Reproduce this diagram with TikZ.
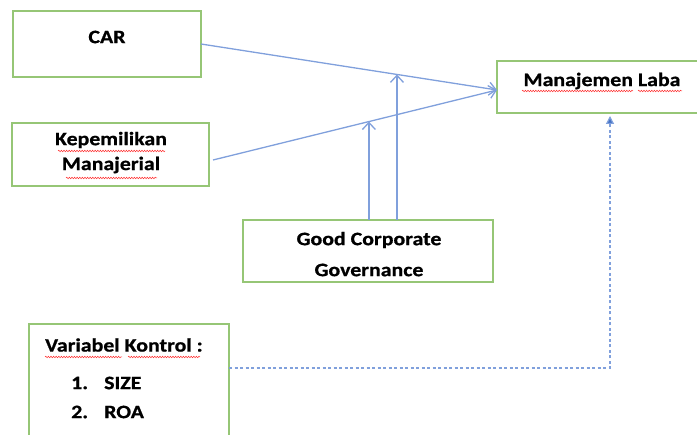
\documentclass[tikz,border=0pt]{standalone}
\usepackage{fontspec}
\setmainfont{Carlito}[FakeStretch=1.15, FakeBold=0.8]
\usetikzlibrary{arrows.meta,calc,decorations.pathmorphing}
\definecolor{boxgreen}{RGB}{150,198,118}
\definecolor{linkblue}{RGB}{128,160,220}
\definecolor{tipblue}{RGB}{68,114,196}
\newcommand{\lblfont}{\bfseries\fontsize{19}{22}\selectfont}

\tikzset{
  varbox/.style={draw=boxgreen, line width=1.3pt, outer sep=0pt, inner sep=0pt},
  lbl/.style={font=\lblfont, inner sep=0pt},
  link/.style={draw=linkblue, line width=1.3pt, -{Straight Barb[length=7pt,width=13pt]}},
  spell/.style={draw=red!80, line width=0.5pt, decorate,
    decoration={snake, amplitude=0.8pt, segment length=2.6pt}}
}

\begin{document}
\begin{tikzpicture}[x=1pt, y=-1pt]
  \useasboundingbox (0,0) rectangle (697,435);

  % boxes
  \node[varbox, minimum width=188pt, minimum height=66pt] (car) at (107,44) {};
  \node[varbox, minimum width=197pt, minimum height=63pt] (kep) at (110.5,154.5) {};
  \node[varbox, minimum width=206pt, minimum height=52pt] (laba) at (600,87) {};
  \node[varbox, minimum width=250pt, minimum height=62pt] (gcg) at (368,251) {};
  \node[varbox, minimum width=200pt, minimum height=120pt] (ctrl) at (129,384) {};

  % texts
  \node[lbl] at (107,37) {CAR};
  \node[lbl] at (111,140) {Kepemilikan};
  \node[lbl] at (111,165) {Manajerial};
  \node[lbl] at (602,81) {Manajemen Laba};
  \node[lbl] at (369,240) {Good Corporate};
  \node[lbl] at (369,270) {Governance};
  \node[lbl, anchor=west] at (45,345) {Variabel Kontrol :};
  \node[lbl, anchor=west] at (71,383) {1.};
  \node[lbl, anchor=west] at (104,383) {SIZE};
  \node[lbl, anchor=west] at (71,412) {2.};
  \node[lbl, anchor=west] at (104,412) {ROA};

  % spell-check marks
  \draw[spell] (58,151) -- (165,151);
  \draw[spell] (66,178) -- (157,178);
  \draw[spell] (522,91) -- (633,91);
  \draw[spell] (638,91) -- (682,91);
  \draw[spell] (45,357) -- (122,357);
  \draw[spell] (128,357) -- (200,357);

  % links to Manajemen Laba
  \coordinate (in) at (497,90);
  \coordinate (kepout) at (213,160);
  \draw[link] (car.east) -- coordinate[pos=0.662] (mcar) (in);
  \draw[link] (kepout) -- coordinate[pos=0.549] (mkep) (in);
  \draw[link] (gcg.north -| mcar) -- (mcar);
  \draw[link] (gcg.north -| mkep) -- (mkep);

  % control link
  \coordinate (ctrlout) at (229,368);
  \coordinate (bend) at (610,368);
  \coordinate (labain) at (610,116);
  \draw[draw=linkblue, line width=1.2pt, dash pattern=on 3pt off 2.5pt,
    -{Triangle[length=8pt,width=8pt,fill=tipblue]}]
    (ctrlout) -- (bend) -- (labain);
\end{tikzpicture}
\end{document}
